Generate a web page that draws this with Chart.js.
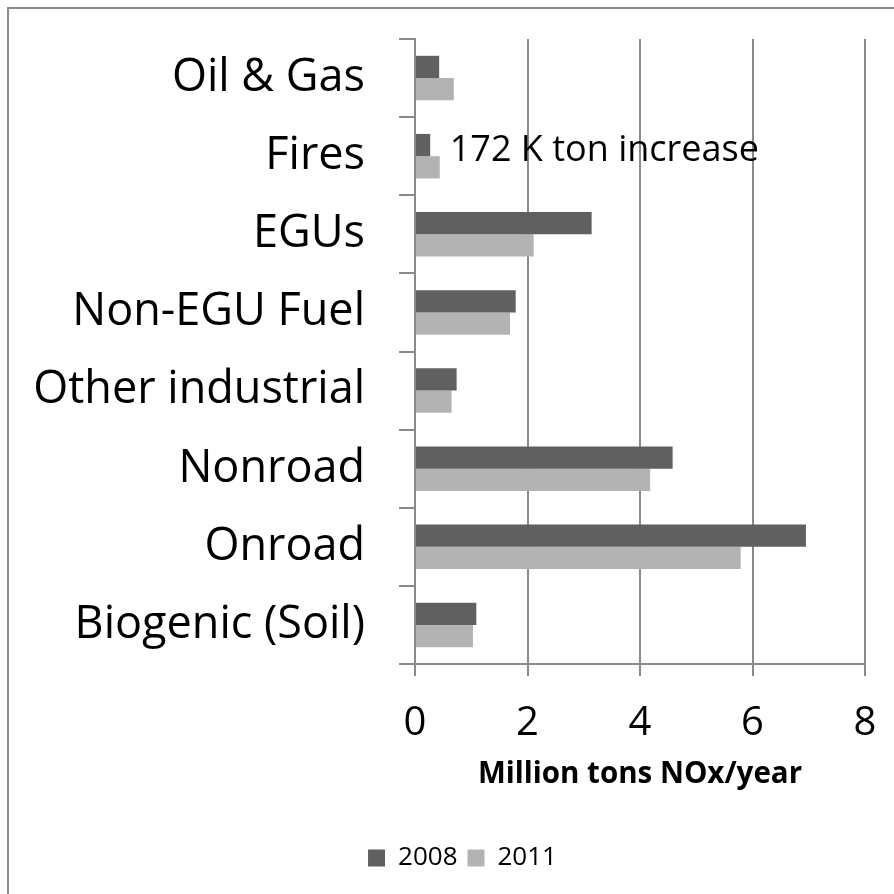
<!DOCTYPE html>
<html>
<head>
<meta charset="utf-8">
<script src="https://cdn.jsdelivr.net/npm/chart.js@4"></script>
<style>
  html, body { margin: 0; padding: 0; background: #fff; }
  #wrap { width: 894px; height: 894px; }
</style>
</head>
<body>
<div id="wrap"><canvas id="grafico" width="894" height="894"></canvas></div>
<script>
const categorias = ['Oil & Gas', 'Fires', 'EGUs', 'Non-EGU Fuel', 'Other industrial', 'Nonroad', 'Onroad', 'Biogenic (Soil)'];
const valores2008 = [0.43, 0.27, 3.14, 1.79, 0.74, 4.58, 6.95, 1.09];
const valores2011 = [0.69, 0.44, 2.11, 1.69, 0.65, 4.18, 5.79, 1.03];
const ticksX = [0, 2, 4, 6, 8];
const nota = '172 K ton increase';

const FUENTE = '"Open Sans", Lato, sans-serif';
const GRIS = '#8a8a8a';

// marco del grafico (solo arriba e izquierda quedan visibles)
const marco = {
  id: 'marco',
  beforeDraw(chart) {
    const ctx = chart.ctx;
    ctx.save();
    ctx.fillStyle = '#fff';
    ctx.fillRect(0, 0, chart.width, chart.height);
    ctx.strokeStyle = GRIS;
    ctx.lineWidth = 2;
    ctx.strokeRect(8, 8, chart.width + 20, chart.height + 20);
    ctx.restore();
  }
};

// la leyenda del original esta algo corrida a la derecha
const moverLeyenda = {
  id: 'moverLeyenda',
  afterLayout(chart) {
    chart.legend.left += 30;
    chart.legend.right += 30;
  }
};

// texto de la anotacion junto a la barra de Fires
const anotacion = {
  id: 'anotacion',
  afterDatasetsDraw(chart) {
    const x = chart.scales.x, y = chart.scales.y;
    const i = categorias.indexOf('Fires');
    const ctx = chart.ctx;
    ctx.save();
    ctx.font = '36px ' + FUENTE;
    ctx.fillStyle = '#000';
    ctx.textAlign = 'left';
    ctx.textBaseline = 'alphabetic';
    ctx.fillText(nota, x.getPixelForValue(valores2011[i]) + 10, y.getPixelForValue(i) + 5);
    ctx.restore();
  }
};

const ctx = document.getElementById('grafico').getContext('2d');
new Chart(ctx, {
  type: 'bar',
  data: {
    labels: categorias,
    datasets: [
      { label: '2008', data: valores2008, backgroundColor: '#606060', barPercentage: 1.0, categoryPercentage: 0.57 },
      { label: '2011', data: valores2011, backgroundColor: '#b3b3b3', barPercentage: 1.0, categoryPercentage: 0.57 }
    ]
  },
  options: {
    indexAxis: 'y',
    responsive: false,
    animation: false,
    layout: { padding: { top: 39, right: 29, left: 0, bottom: 13 } },
    scales: {
      y: {
        afterFit: (s) => { s.width = 415; s.paddingTop = 0; s.paddingBottom = 0; },
        grid: { drawOnChartArea: false, drawTicks: true, tickLength: 16, color: GRIS, lineWidth: 2, offset: true },
        border: { color: GRIS, width: 2 },
        ticks: { color: '#000', font: { family: FUENTE, size: 45 }, padding: 34 }
      },
      x: {
        min: 0, max: 8,
        afterFit: (s) => { s.height = 171; s.paddingLeft = 0; s.paddingRight = 0; },
        afterBuildTicks: (s) => { s.ticks = ticksX.map(v => ({ value: v })); },
        grid: { color: GRIS, lineWidth: 2, tickLength: 12 },
        border: { color: GRIS, width: 2 },
        ticks: { color: '#000', font: { family: FUENTE, size: 40 }, padding: 24 },
        title: { display: true, text: 'Million tons NOx/year', color: '#000', font: { family: FUENTE, size: 29.5, weight: 'bold' }, padding: { top: 9, bottom: 43 } }
      }
    },
    plugins: {
      legend: {
        position: 'bottom',
        labels: { color: '#000', font: { family: FUENTE, size: 26 }, boxWidth: 17, boxHeight: 17, padding: 10 }
      },
      tooltip: { enabled: false }
    }
  },
  plugins: [marco, moverLeyenda, anotacion]
});
</script>
</body>
</html>
